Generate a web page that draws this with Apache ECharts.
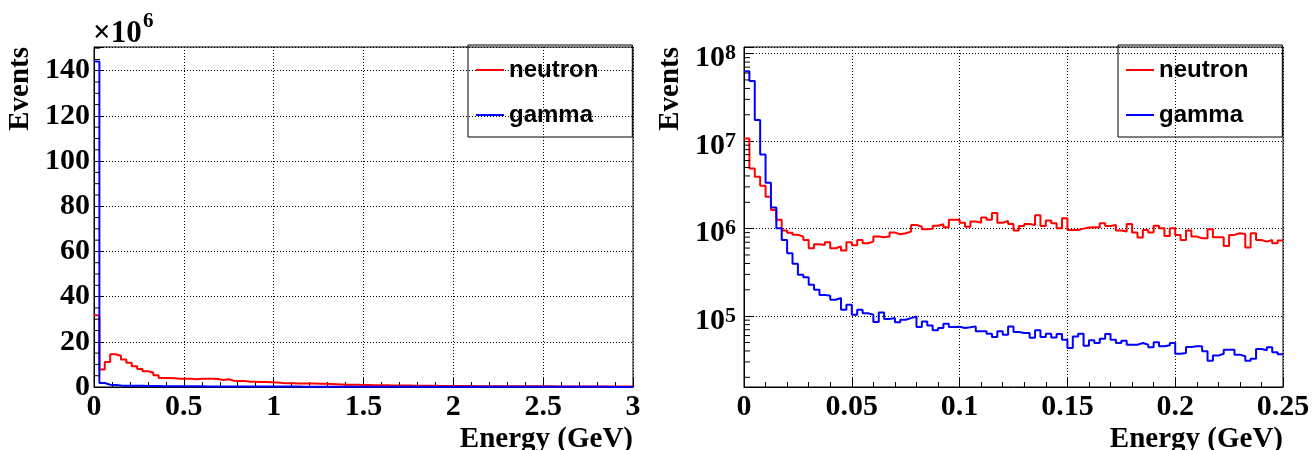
<!DOCTYPE html>
<html>
<head>
<meta charset="utf-8">
<script src="https://cdn.jsdelivr.net/npm/echarts@6/dist/echarts.min.js"></script>
<style>
  html, body { margin: 0; padding: 0; background: #fff; }
  #chart { width: 1312px; height: 450px; }
</style>
</head>
<body>
<div id="chart"></div>
<script>
// ---- Full range: 100 bins of 0.03 GeV between 0 and 3 GeV, counts in units of 10^6 ----
const fullRangeMax = 3;
const fullBinWidth = 0.03;
const fullCountMax = 150.5;
const neutronFull = [
  31.8, 7.7, 11.1, 14.5, 13.8, 12.2, 10.7, 9.2, 8.0, 7.0, 6.4, 5.2,
  4.0, 4.0, 3.9, 3.7, 3.7, 3.6, 3.4, 3.7, 3.6, 3.7, 3.5, 3.1, 3.4,
  2.8, 2.7, 2.7, 2.3, 2.3, 2.2, 2.2, 2.1, 2.0,
  1.8, 1.7, 1.7, 1.6, 1.6, 1.5, 1.5, 1.4, 1.4, 1.3, 1.2,
  1.1, 1.0, 1.0, 0.95, 0.9, 0.85,
  0.8, 0.78, 0.75, 0.72, 0.7, 0.68, 0.65, 0.62, 0.6, 0.58, 0.55, 0.53, 0.5, 0.48, 0.46, 0.44,
  0.41, 0.40, 0.39, 0.38, 0.37, 0.36, 0.35, 0.35, 0.34, 0.33, 0.32, 0.32, 0.31, 0.30, 0.30,
  0.29, 0.28, 0.28, 0.27, 0.27, 0.26, 0.26, 0.25, 0.25, 0.24, 0.24, 0.23, 0.23, 0.22, 0.22,
  0.21, 0.21, 0.20
];
const gammaFull = [
  144.1, 1.8, 1.0, 0.85, 0.7, 0.6, 0.55, 0.5, 0.5, 0.45, 0.42, 0.4,
  0.38, 0.36, 0.35, 0.33, 0.32, 0.3, 0.29, 0.28, 0.27,
  0.26, 0.25, 0.25, 0.24, 0.23, 0.23, 0.22, 0.21, 0.21, 0.2, 0.2, 0.19, 0.19, 0.18, 0.18, 0.17, 0.17, 0.16, 0.16, 0.15,
  0.15, 0.15, 0.14, 0.14, 0.14, 0.13, 0.13, 0.13, 0.12, 0.12,
  0.12, 0.12, 0.11, 0.11, 0.11, 0.11, 0.1, 0.1, 0.1, 0.1,
  0.1, 0.095, 0.095, 0.09, 0.09, 0.09, 0.09, 0.085, 0.085, 0.085,
  0.08, 0.08, 0.08, 0.08, 0.075, 0.075, 0.075, 0.075, 0.07, 0.07,
  0.07, 0.07, 0.07, 0.065, 0.065, 0.065, 0.065, 0.065, 0.06, 0.06,
  0.06, 0.06, 0.06, 0.06, 0.055, 0.055, 0.055, 0.055, 0.05
];
const fullMinorTicksY = [5, 10, 15, 25, 30, 35, 45, 50, 55, 65, 70, 75, 85, 90, 95,
  105, 110, 115, 125, 130, 135, 145, 150];

// ---- Low-energy range: 100 bins of 0.0025 GeV between 0 and 0.25 GeV, raw counts ----
const zoomRangeMax = 0.25;
const zoomBinWidth = 0.0025;
const zoomCountMin = 15500;
const zoomCountMax = 1.19e8;
const neutronZoom = [
  1.07e7, 4.88e6, 3.92e6, 3.10e6, 2.32e6, 1.63e6, 1.26e6, 9.5e5, 9.0e5, 8.5e5, 8.1e5, 7.4e5,
  5.97e5, 6.63e5, 6.52e5, 6.99e5, 5.97e5, 6.24e5, 5.62e5, 6.99e5, 6.46e5, 7.43e5, 6.81e5, 7.11e5,
  8.11e5, 7.97e5, 8.11e5, 9.01e5, 8.63e5, 8.85e5, 9.25e5, 1.10e6, 1.05e6, 9.84e5, 1.00e6,
  1.08e6, 1.12e6, 1.04e6, 1.26e6, 1.26e6, 1.17e6, 1.05e6, 1.21e6, 1.17e6, 1.34e6,
  1.26e6, 1.51e6, 1.17e6, 1.22e6, 1.13e6, 9.50e5, 1.07e6, 1.13e6, 1.10e6, 1.42e6,
  1.07e6, 1.24e6, 1.15e6, 1.01e6, 1.31e6, 9.67e5, 9.67e5, 1.00e6, 1.03e6, 1.04e6,
  1.03e6, 1.15e6, 1.07e6, 1.10e6, 9.50e5, 9.25e5, 1.13e6, 9.02e5, 7.91e5, 9.67e5,
  9.02e5, 1.08e6, 1.01e6, 8.26e5, 1.01e6, 8.48e5, 7.43e5, 9.50e5, 8.11e5, 7.77e5,
  7.77e5, 9.84e5, 7.97e5, 7.97e5, 6.35e5, 8.48e5, 8.85e5, 8.70e5, 6.08e5, 8.85e5,
  7.43e5, 7.11e5, 7.43e5, 6.81e5, 7.31e5
];
const gammaZoom = [
  6.29e7, 4.88e7, 1.74e7, 7.05e6, 3.35e6, 1.74e6, 1.01e6, 7.43e5, 5.24e5, 3.96e5,
  2.97e5, 2.79e5, 2.28e5, 2.0e5, 1.75e5, 1.71e5, 1.54e5, 1.61e5, 1.18e5, 1.35e5,
  1.04e5, 1.18e5, 1.08e5, 1.04e5, 8.6e4, 1.10e5, 9.3e4, 9.5e4, 8.5e4, 9.1e4,
  9.5e4, 9.9e4, 7.5e4, 8.7e4, 7.8e4,
  6.88e4, 7.31e4, 8.19e4, 7.50e4, 7.57e4, 7.31e4, 7.45e4, 7.64e4, 6.70e4, 6.70e4,
  6.30e4, 5.77e4, 6.70e4, 6.14e4, 7.64e4, 6.58e4, 6.41e4, 6.41e4, 5.67e4, 6.88e4,
  5.77e4, 6.30e4, 5.72e4, 6.25e4, 5.38e4, 4.33e4, 5.87e4, 6.30e4, 4.59e4, 5.29e4,
  4.93e4, 5.52e4, 6.25e4, 5.38e4, 4.93e4, 5.25e4, 4.72e4, 4.72e4, 4.93e4, 4.72e4,
  4.41e4, 5.02e4, 4.52e4, 4.64e4, 4.93e4, 3.72e4, 3.79e4, 4.44e4, 4.52e4, 4.52e4,
  3.96e4, 3.10e4, 3.54e4, 3.72e4, 4.14e4, 4.14e4, 3.63e4, 3.48e4, 3.10e4, 3.27e4,
  4.22e4, 4.07e4, 4.41e4, 3.86e4, 3.66e4
];
const logMantissas = [2, 3, 4, 5, 6, 7, 8, 9];
const logDecades = [1e4, 1e5, 1e6, 1e7];

const seriesNames = ['neutron', 'gamma'];
const seriesColors = ['#ff0000', '#0000ff'];
const axisTitleX = 'Energy (GeV)';
const axisTitleY = 'Events';

const serif = "'Liberation Serif','Times New Roman',serif";
const sans = "'Liberation Sans',Arial,Helvetica,sans-serif";

// Step outline: one point per bin low edge plus the closing upper edge
function histPoints(values, binWidth) {
  const pts = values.map((v, i) => [i * binWidth, v]);
  pts.push([values.length * binWidth, values[values.length - 1]]);
  return pts;
}

const zoomMinorTicksY = [];
logDecades.forEach(d => logMantissas.forEach(m => {
  const v = m * d;
  if (v > zoomCountMin && v < zoomCountMax) zoomMinorTicksY.push(v);
}));

const gridLine = { show: true, lineStyle: { color: '#000', width: 1, type: [1, 2] } };
const axisLineStyle = { show: true, onZero: false, lineStyle: { color: '#000', width: 1 } };
const labelFont = { color: '#000', fontFamily: serif, fontWeight: 'bold', fontSize: 30, lineHeight: 30 };

function xAxisFor(gridIndex, max, interval) {
  return {
    gridIndex, type: 'value', min: 0, max, interval,
    axisLine: axisLineStyle,
    axisTick: { show: true, inside: true, length: 10, lineStyle: { color: '#000', width: 1 } },
    minorTick: { show: true, splitNumber: 5, length: 5, lineStyle: { color: '#000', width: 1 } },
    splitLine: gridLine,
    axisLabel: Object.assign({ margin: 5, showMinLabel: true, showMaxLabel: true }, labelFont)
  };
}

function histSeries(name, color, values, binWidth, axisIndex) {
  return {
    name, type: 'line', step: 'end', symbol: 'none', showSymbol: false,
    xAxisIndex: axisIndex, yAxisIndex: axisIndex,
    data: histPoints(values, binWidth),
    lineStyle: { color, width: 2 }, itemStyle: { color },
    clip: true, z: 4, silent: true
  };
}

function minorTickSeries(values, axisIndex) {
  return {
    type: 'custom', xAxisIndex: axisIndex, yAxisIndex: axisIndex, silent: true, z: 5,
    data: values.map(v => [0, v]),
    encode: { x: 0, y: 1 },
    renderItem: (params, api) => {
      const p = api.coord([0, api.value(1)]);
      return {
        type: 'line',
        shape: { x1: p[0], y1: p[1], x2: p[0] + 6, y2: p[1] },
        style: { stroke: '#000', lineWidth: 1 }
      };
    }
  };
}

function legendAt(left) {
  return {
    left, top: 45, orient: 'vertical',
    padding: [13, 34, 10, 8], itemGap: 21, itemWidth: 28, itemHeight: 2, icon: 'rect',
    backgroundColor: 'transparent', borderColor: '#000', borderWidth: 1, borderRadius: 0,
    selectedMode: false, data: seriesNames,
    textStyle: { color: '#000', fontFamily: sans, fontWeight: 'bold', fontSize: 24, lineHeight: 24 }
  };
}

function axisTitle(text, x, y, rotation, align) {
  return {
    type: 'text', x, y, rotation, silent: true,
    style: { text, fontFamily: serif, fontWeight: 'bold', fontSize: 29, fill: '#000',
             align, verticalAlign: 'middle' }
  };
}

const chart = echarts.init(document.getElementById('chart'), null, { renderer: 'canvas' });
chart.setOption({
  animation: false,
  backgroundColor: '#fff',
  grid: [
    { left: 94, top: 47, width: 539, height: 340, show: true, borderColor: '#000', borderWidth: 1,
      backgroundColor: 'transparent', containLabel: false, outerBoundsMode: 'none' },
    { left: 744, top: 47, width: 539, height: 340, show: true, borderColor: '#000', borderWidth: 1,
      backgroundColor: 'transparent', containLabel: false, outerBoundsMode: 'none' }
  ],
  xAxis: [xAxisFor(0, fullRangeMax, 0.5), xAxisFor(1, zoomRangeMax, 0.05)],
  yAxis: [
    {
      gridIndex: 0, type: 'value', min: 0, max: fullCountMax, interval: 20,
      axisLine: axisLineStyle,
      axisTick: { show: true, inside: true, length: 10, lineStyle: { color: '#000', width: 1 } },
      splitLine: gridLine,
      axisLabel: Object.assign({
        margin: 4,
        formatter: v => (Math.abs(v % 20) < 1e-9 ? String(v) : '')
      }, labelFont)
    },
    {
      gridIndex: 1, type: 'log', logBase: 10, min: zoomCountMin, max: zoomCountMax, splitNumber: 4,
      axisLine: axisLineStyle,
      axisTick: { show: true, inside: true, length: 10, lineStyle: { color: '#000', width: 1 } },
      splitLine: gridLine,
      axisLabel: {
        margin: 8, color: '#000',
        formatter: v => {
          const e = Math.log10(v);
          const r = Math.round(e);
          return Math.abs(e - r) < 1e-6 ? '{base|10}{exp|' + r + '}' : '';
        },
        rich: {
          base: { fontFamily: serif, fontWeight: 'bold', fontSize: 30, lineHeight: 30,
                  padding: [10, 0, 0, 0], color: '#000' },
          exp: { fontFamily: serif, fontWeight: 'bold', fontSize: 22, lineHeight: 22,
                 padding: [4, 0, 0, 0], verticalAlign: 'top', color: '#000' }
        }
      }
    }
  ],
  legend: [legendAt(468), legendAt(1118)],
  series: [
    histSeries(seriesNames[0], seriesColors[0], neutronFull, fullBinWidth, 0),
    histSeries(seriesNames[1], seriesColors[1], gammaFull, fullBinWidth, 0),
    histSeries(seriesNames[0], seriesColors[0], neutronZoom, zoomBinWidth, 1),
    histSeries(seriesNames[1], seriesColors[1], gammaZoom, zoomBinWidth, 1),
    minorTickSeries(fullMinorTicksY, 0),
    minorTickSeries(zoomMinorTicksY, 1)
  ],
  graphic: [
    { type: 'text', x: 93, y: 34, silent: true,
      style: { text: '×10', fontFamily: serif, fontWeight: 'bold', fontSize: 31, fill: '#000',
               align: 'left', verticalAlign: 'middle' } },
    { type: 'text', x: 143, y: 22, silent: true,
      style: { text: '6', fontFamily: serif, fontWeight: 'bold', fontSize: 21, fill: '#000',
               align: 'left', verticalAlign: 'middle' } },
    axisTitle(axisTitleY, 21, 47, Math.PI / 2, 'right'),
    axisTitle(axisTitleY, 671, 47, Math.PI / 2, 'right'),
    axisTitle(axisTitleX, 633, 440, 0, 'right'),
    axisTitle(axisTitleX, 1283, 440, 0, 'right')
  ]
});
</script>
</body>
</html>
